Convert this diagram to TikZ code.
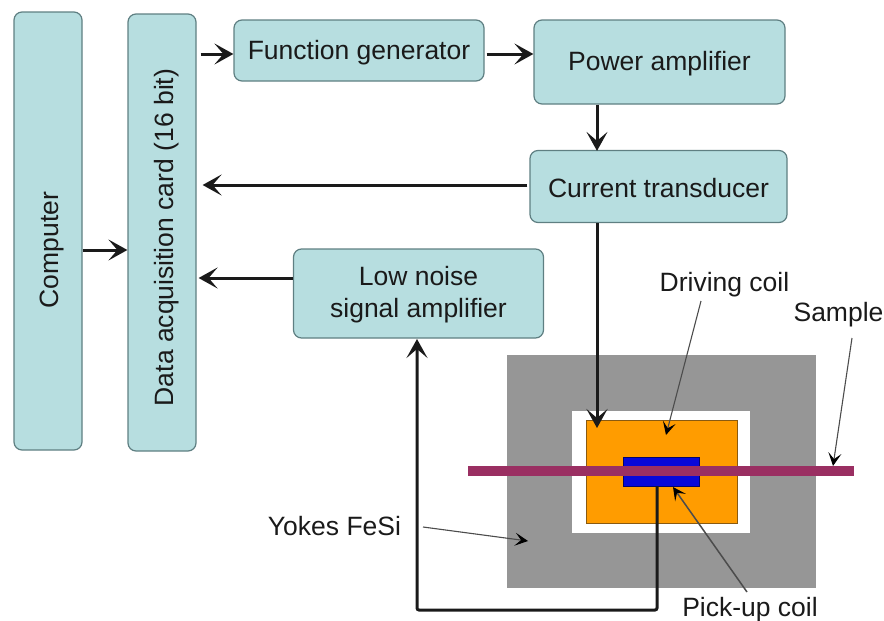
\documentclass[tikz,border=0pt]{standalone}
\usepackage{fontspec}
\setmainfont{Liberation Sans}
\usetikzlibrary{arrows.meta}
\definecolor{boxfill}{HTML}{B7DEE0}
\definecolor{boxedge}{HTML}{5F7F82}
\definecolor{yoke}{HTML}{969696}
\definecolor{coilo}{HTML}{FF9C00}
\definecolor{coiledge}{HTML}{8A5A10}
\definecolor{pick}{HTML}{0808D8}
\definecolor{samp}{HTML}{9A2F62}
\definecolor{inkc}{HTML}{1A1A1A}
\newcommand\lowerby[1]{\rule{0pt}{#1pt}}
\tikzset{
 box/.style={draw=boxedge,fill=boxfill,rounded corners=8pt,line width=1.2pt,align=center,font=\fontsize{26.5}{32}\selectfont,text=inkc,inner sep=0pt},
 conn/.style={draw=inkc,line width=3pt,-{Stealth[length=19pt,width=21pt,inset=9pt]}},
 lead/.style={draw=black!70,line width=1.1pt,-{Stealth[length=13pt,width=13pt,inset=6pt,black]}},
 lab/.style={font=\fontsize{26.5}{32}\selectfont,text=inkc,inner sep=0pt},
 solid block/.style={inner sep=0pt,outer sep=0pt}
}
\begin{document}
\begin{tikzpicture}[x=1pt,y=-1pt]
\useasboundingbox (0,0) rectangle (884,621);
\node[box,minimum width=438pt,minimum height=68pt,rotate=90] (comp) at (48,231) {};
\node[box,minimum width=437pt,minimum height=68pt,rotate=90] (daq) at (162,232.5) {};
\node[lab,rotate=90] (tcomp) at (52,250) {Computer};
\node[lab,rotate=90] (tdaq) at (167,237.5) {Data acquisition card (16 bit)};
\node[box,minimum width=250pt,minimum height=61pt] (fg) at (359,50.5) {\lowerby{24}Function generator};
\node[box,minimum width=251pt,minimum height=84pt] (pa) at (659.5,62) {\lowerby{23.4}Power amplifier};
\node[box,minimum width=257pt,minimum height=72pt] (ct) at (658.5,186.5) {\lowerby{21.4}Current transducer};
\node[box,minimum width=250pt,minimum height=89pt] (la) at (418.5,293.5) {\lowerby{22.4}Low noise\\signal amplifier};
\node[solid block,fill=yoke,minimum width=309pt,minimum height=233pt] (yk) at (661.5,471.5) {};
\node[solid block,fill=white,minimum width=178pt,minimum height=122pt] (win) at (661,472) {};
\node[solid block,fill=coilo,draw=coiledge,line width=0.8pt,minimum width=151pt,minimum height=103pt] (dc) at (661.5,471.5) {};
\node[solid block,fill=pick,draw=black!50!pick,line width=0.8pt,minimum width=76pt,minimum height=29pt] (pc) at (661,471.5) {};
\node[solid block,fill=samp,minimum width=386pt,minimum height=10.5pt] (sa) at (661,471) {};
\node[lab] (lyk) at (334.5,526) {Yokes FeSi};
\node[lab] (ldc) at (724.5,285) {Driving coil};
\node[lab] (ls) at (838.5,315) {Sample};
\node[lab] (lpc) at (750,610) {Pick-up coil};
\coordinate (c1) at (1,250);
\draw[conn] (comp.south |- c1) -- (daq.north |- c1);
\coordinate (c2) at (1,54);
\draw[conn] ([xshift=4pt]daq.south |- c2) -- (fg.west |- c2);
\draw[conn] ([xshift=2pt]fg.east |- c2) -- (pa.west |- c2);
\coordinate (c3) at (597,1);
\draw[conn] (c3 |- pa.south) -- ([yshift=-1pt]c3 |- ct.north);
\coordinate (c4) at (1,185);
\draw[conn] ([xshift=-2pt]ct.west |- c4) -- ([xshift=6pt]daq.south |- c4);
\coordinate (c5) at (1,278);
\draw[conn] (la.west |- c5) -- ([xshift=2pt]daq.south |- c5);
\coordinate (c6) at (597,428);
\draw[conn] (c3 |- ct.south) -- (c6);
\coordinate (w1) at (657,610);
\coordinate (w2) at (417,610);
\coordinate (w3) at (417,339);
\draw[conn,rounded corners=2pt] (w1 |- pc.south) -- (w1) -- (w2) -- (w3);
\coordinate (a1) at (528,541);
\coordinate (s1) at (423,527);
\draw[lead] (s1) -- (a1);
\coordinate (a2) at (666,435);
\coordinate (s2) at (701,301);
\draw[lead] (s2) -- (a2);
\coordinate (a3) at (833,466);
\coordinate (s3) at (852,338);
\draw[lead] (s3) -- (a3);
\coordinate (a4) at (673,487);
\coordinate (s4) at (747,592);
\draw[lead,line width=1.5pt] (s4) -- (a4);
\end{tikzpicture}
\end{document}
